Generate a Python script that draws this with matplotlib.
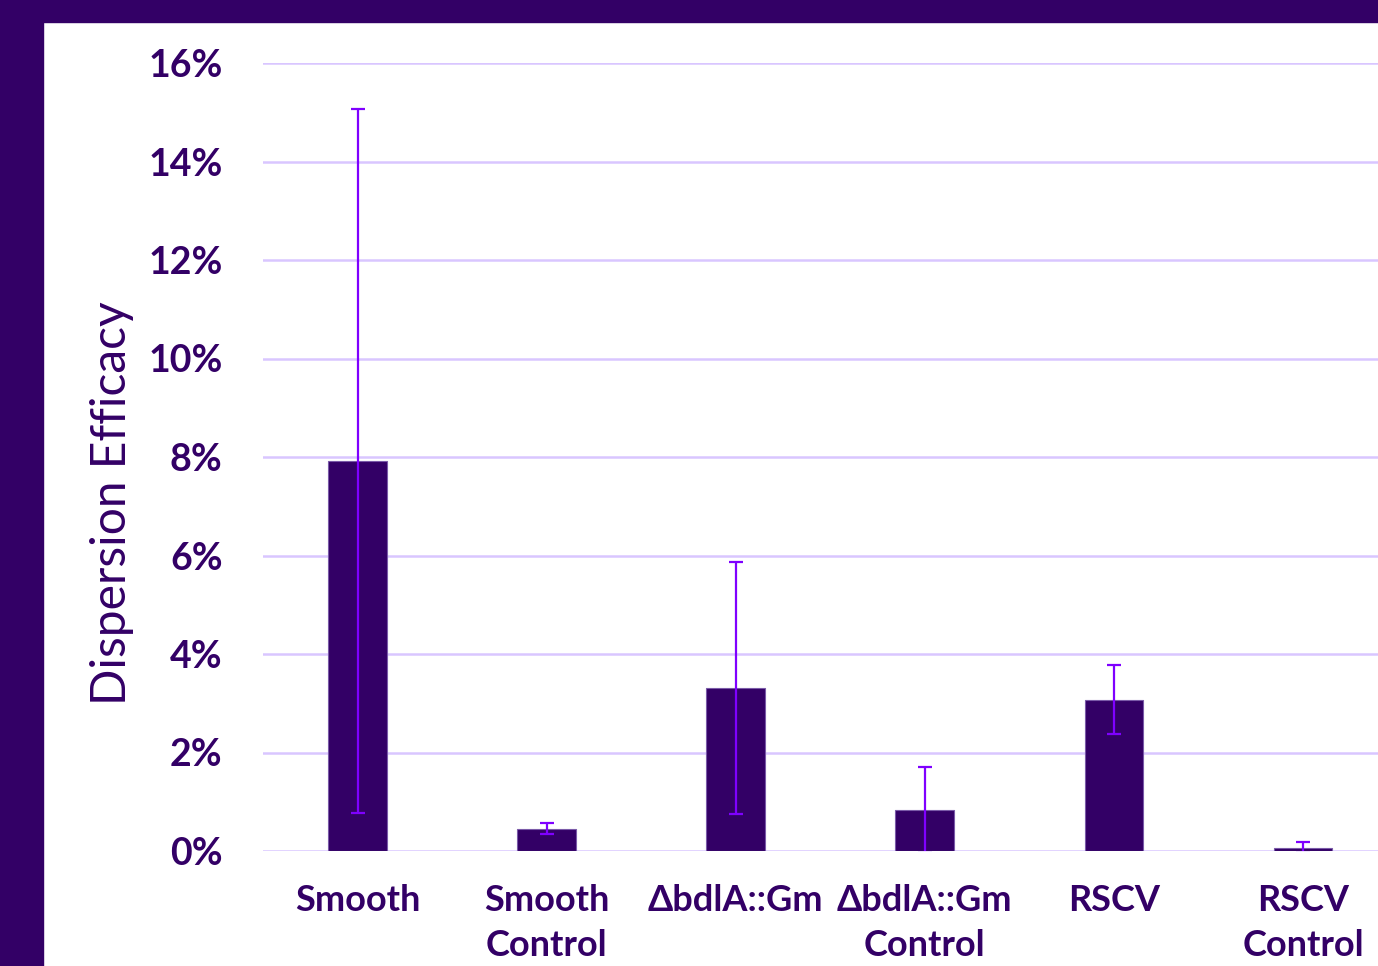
import matplotlib
matplotlib.use("Agg")
import matplotlib.pyplot as plt
from matplotlib.patches import Rectangle
from matplotlib.ticker import FuncFormatter

categories = ["Smooth", "Smooth\nControl", "\u0394bdlA::Gm", "\u0394bdlA::Gm\nControl", "RSCV", "RSCV\nControl"]
values = [7.92, 0.45, 3.31, 0.83, 3.07, 0.07]
errors = [7.14, 0.11, 2.55, 0.88, 0.70, 0.11]
yticks = [0, 2, 4, 6, 8, 10, 12, 14, 16]

dark = "#330066"
grid = "#D9C6FF"
err_c = "#7F00FF"

W, H = 1378, 966
fig = plt.figure(figsize=(W / 100, H / 100), dpi=100)
fig.patch.set_facecolor("white")
fig.patches.append(Rectangle((0, 0), 43 / W, 1, transform=fig.transFigure, color=dark, zorder=0))
fig.patches.append(Rectangle((0, 1 - 22 / H), 1, 22 / H, transform=fig.transFigure, color=dark, zorder=0))

left = 263 / W
right = 1397.5 / W
bottom = 1 - 851 / H
top = 1 - 63 / H
ax = fig.add_axes([left, bottom, right - left, top - bottom])
ax.set_facecolor("none")

x = list(range(len(categories)))
ax.bar(x, values, width=0.31, color=dark, edgecolor="#7a5aa8", linewidth=0.8, zorder=3)
ax.errorbar(x, values, yerr=errors, fmt="none", ecolor=err_c, elinewidth=1.6, capsize=5, capthick=1.6, zorder=4)

ax.set_xlim(-0.5, 5.5)
ax.set_ylim(0, 16)
ax.set_yticks(yticks)
ax.yaxis.set_major_formatter(FuncFormatter(lambda v, p: f"{int(v)}%"))
ax.grid(axis="y", color=grid, linewidth=1.8, zorder=0)
ax.set_axisbelow(True)
for s in ax.spines.values():
    s.set_visible(False)
ax.tick_params(axis="both", length=0)
ax.tick_params(axis="y", pad=29)
ax.tick_params(axis="x", pad=24)
ax.set_xticks(x)
ax.set_xticklabels(categories, fontfamily="Lato", fontweight="bold", fontsize=26, color=dark, linespacing=1.45)
for lab in ax.get_yticklabels():
    lab.set_fontfamily("Lato")
    lab.set_fontweight("bold")
    lab.set_fontsize(27)
    lab.set_color(dark)
for lab in ax.get_xticklabels():
    lab.set_verticalalignment("top")

fig.text(112 / W, 1 - 503 / H, "Dispersion Efficacy", rotation=90, ha="center", va="center",
         fontfamily="Lato", fontsize=34.5, color=dark)

fig.savefig("out.png", dpi=100)
